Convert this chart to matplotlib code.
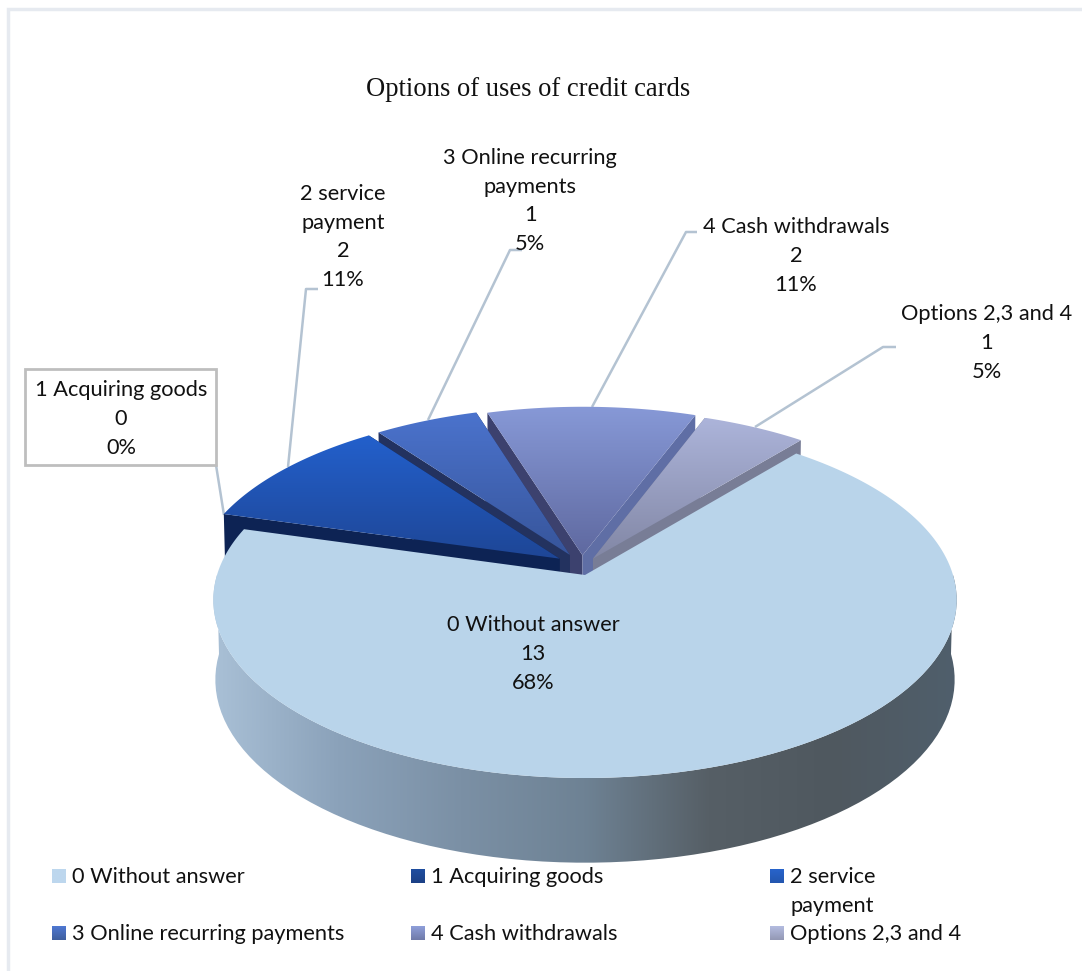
#!/usr/bin/env python
# -*- coding:utf-8 -*-
import numpy as np
import matplotlib
matplotlib.use('Agg')
import matplotlib.pyplot as plt
from matplotlib.patches import Polygon, Rectangle

categories = ['0 Without answer', '1 Acquiring goods', '2 service payment',
              '3 Online recurring payments', '4 Cash withdrawals', 'Options 2,3 and 4']
values = [13, 0, 2, 1, 2, 1]
title = 'Options of uses of credit cards'

plt.rcParams['font.family'] = ['Lato', 'DejaVu Sans']

W, H = 1082, 971
fig = plt.figure(figsize=(W / 100, H / 100), dpi=100)
ax = fig.add_axes([0, 0, 1, 1])
ax.set_xlim(0, W)
ax.set_ylim(H, 0)
ax.axis('off')

K = 0.1404
START = 50.5
# how far each slice is pulled out of the disc
EXPLODE = [(0, 0), (0, 0), (-0.07, 0.095), (-0.042, 0.117), (-0.007, 0.115), (0.022, 0.095)]
# gradient end colours of the top faces and colours of the cut faces
TOPS = [('#B9D4EA', '#B9D4EA'), ('#1C4696', '#143672'), ('#2360CC', '#1E4696'),
        ('#4B73CD', '#37559B'), ('#8799D7', '#5F69A0'), ('#ACB4DA', '#8287A5')]
FACES_L = ['#7F97AE', '#0D2354', '#0D2354', '#23325F', '#3C416E', '#787D96']
FACES_R = ['#7F97AE', '#0D2354', '#0D2354', '#23325F', '#5F6EA5', '#787D96']


def project(u, v, level=0):
    # perspective view of the unit disc, level 0 top face, level 1 bottom face
    if level == 0:
        x0, y0, a, b = 585, 575, 368, 174.5
    else:
        x0, y0, a, b = 585, 654, 366, 179.4
    d = 1 + K * v
    return x0 + a * u / d, y0 - b * v / d


def arc(t1, t2, off=(0, 0), level=0, n=80):
    t = np.radians(np.linspace(t1, t2, n))
    x, y = project(np.cos(t) + off[0], np.sin(t) + off[1], level)
    return np.column_stack([x, y])


def gradient(poly, colors, horizontal=False, zorder=2):
    # paint a linear gradient clipped to the polygon
    pts = np.array(poly)
    c = matplotlib.colors.LinearSegmentedColormap.from_list('g', colors)
    x0, x1, y0, y1 = pts[:, 0].min(), pts[:, 0].max(), pts[:, 1].min(), pts[:, 1].max()
    g = np.linspace(0, 1, 256)
    g = g.reshape(1, -1) if horizontal else g.reshape(-1, 1)
    im = ax.imshow(g, cmap=c, extent=[x0, x1, y1, y0], aspect='auto', zorder=zorder,
                   interpolation='bilinear')
    p = Polygon(pts, closed=True, transform=ax.transData, fc='none', ec='none')
    ax.add_patch(p)
    im.set_clip_path(p)


total = sum(values)
spans = [360.0 * v / total for v in values]
angles = []
a = START
for s in spans:
    # slices run clockwise
    angles.append((a, a - s))
    a -= s

# frame of the chart area
ax.add_patch(Rectangle((8, 9), W, H, fc='white', ec='#E6EAF0', lw=2.5, zorder=0))

# exploded slices, back ones first
for n, i in enumerate([4, 5, 3, 2]):
    t1, t2 = angles[i]
    off = EXPLODE[i]
    top = arc(t1, t2, off)
    x0, y0 = project(off[0], off[1])
    x1, y1 = project(off[0], off[1], 1)
    z = 2 + n * 0.1
    for t, col in ((t1, FACES_L[i]), (t2, FACES_R[i])):
        c, s = np.cos(np.radians(t)), np.sin(np.radians(t))
        xa, ya = project(c + off[0], s + off[1])
        xb, yb = project(c + off[0], s + off[1], 1)
        ax.add_patch(Polygon([(x0, y0), (xa, ya), (xb, yb), (x1, y1)], fc=col, ec='none', zorder=z))
    gradient(np.vstack([[(x0, y0)], top]), TOPS[i], zorder=z + 0.01)

# outer wall of the big slice, then its top face
wall = np.vstack([arc(180, 360), arc(360, 180, level=1)])
gradient(wall, ['#A9C0D6', '#8BA2BA', '#7B90A5', '#6E8294', '#565F66', '#4F585F', '#505F6C'],
         horizontal=True, zorder=3)
t1, t2 = angles[0]
main = np.vstack([[project(0, 0)], arc(t1, t2, n=300)])
ax.add_patch(Polygon(main, fc=TOPS[0][0], ec='none', zorder=4))

# leader lines
leaders = [[(216, 465), (224, 515)],
           [(288, 467), (306, 289), (318, 289)],
           [(428, 420), (510, 250), (522, 250)],
           [(592, 407), (686, 232), (697, 232)],
           [(755, 427), (883, 347), (896, 347)]]
for pts in leaders:
    xs, ys = zip(*pts)
    ax.plot(xs, ys, color='#B4C3D2', lw=1.8, zorder=1.5, solid_capstyle='butt')

# data labels: name, value, percent
names = ['0 Without answer', '1 Acquiring goods', '2 service\npayment',
         '3 Online recurring\npayments', '4 Cash withdrawals', 'Options 2,3 and 4']
label_xy = [(533, 654), (121, 419), (343, 237), (530, 201), (796, 256), (987, 343)]
FS = 15.7
for name, v, (x, y) in zip(names, values, label_xy):
    txt = '%s\n%d\n%d%%' % (name, v, round(100.0 * v / total))
    ax.text(x, y, txt, ha='center', va='center', fontsize=FS, color='#111111',
            linespacing=1.55, zorder=6)
ax.add_patch(Rectangle((25, 369), 191, 96, fc='none', ec='#BEBEBE', lw=2, zorder=5))

ax.text(528, 89, title, ha='center', va='center', fontsize=19.2, color='#111111',
        family=['Liberation Serif'], zorder=6)

# legend
legend_x = [52, 411, 770]
legend_y = [869, 926]
legend_names = ['0 Without answer', '1 Acquiring goods', '2 service\npayment',
                '3 Online recurring payments', '4 Cash withdrawals', 'Options 2,3 and 4']
legend_cols = [('#BDD7EE', '#BDD7EE'), ('#1F4EA0', '#1C4085'), ('#2864CC', '#2356AE'),
               ('#4F78D2', '#3F5F9E'), ('#8F9FDA', '#6F7AA8'), ('#B4BCE0', '#9398B4')]
for i, (name, cols) in enumerate(zip(legend_names, legend_cols)):
    x = legend_x[i % 3]
    y = legend_y[i // 3]
    sq = [(x, y), (x + 14, y), (x + 14, y + 14), (x, y + 14)]
    gradient(sq, cols, zorder=6)
    ax.text(x + 20, y - 2, name, ha='left', va='top', fontsize=FS, color='#111111',
            linespacing=1.55, zorder=6)

ax.set_xlim(0, W)
ax.set_ylim(H, 0)
fig.savefig('out.png', dpi=100, facecolor='white')
